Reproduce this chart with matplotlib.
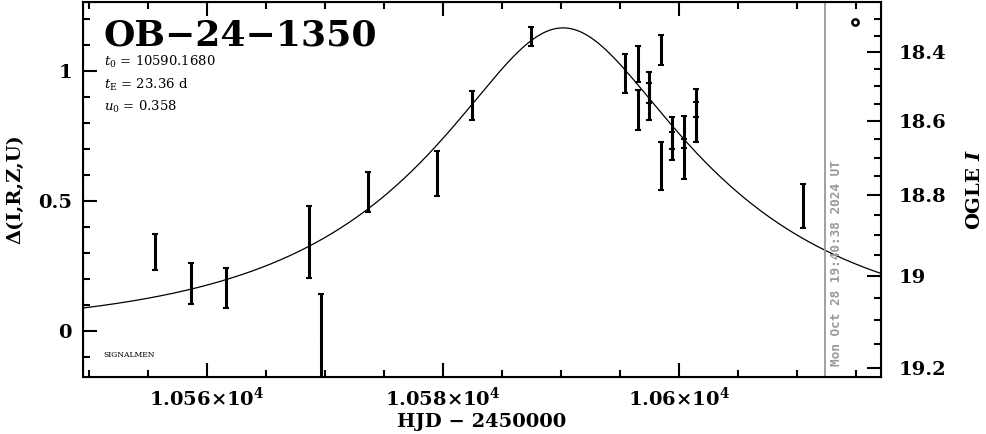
import numpy as np
import matplotlib
matplotlib.use("Agg")
import matplotlib.pyplot as plt
from matplotlib.ticker import MultipleLocator, FixedLocator, FuncFormatter

plt.rcParams['font.family'] = ['DejaVu Serif']
plt.rcParams['mathtext.fontset'] = 'dejavuserif'

# event parameters
event_name = 'OB\u221224\u22121350'
t0 = 10590.1680
tE = 23.36
u0 = 0.358

# photometry: HJD-2450000, delta mag, error
hjd = [10555.62, 10558.67, 10561.58, 10568.61, 10569.63, 10573.61, 10579.49,
       10582.48, 10587.46, 10595.45, 10596.49, 10596.49, 10597.46, 10597.46,
       10598.47, 10598.47, 10599.43, 10599.43, 10600.45, 10600.45, 10601.44,
       10601.44, 10610.47]
delta = [0.303, 0.182, 0.164, 0.341, -0.038, 0.534, 0.607,
         0.867, 1.133, 0.990, 1.026, 0.848, 0.936, 0.881,
         1.080, 0.634, 0.761, 0.711, 0.766, 0.661, 0.876,
         0.803, 0.480]
err = [0.069, 0.078, 0.077, 0.139, 0.179, 0.077, 0.087,
       0.056, 0.036, 0.074, 0.070, 0.077, 0.061, 0.071,
       0.058, 0.091, 0.060, 0.054, 0.061, 0.077, 0.053,
       0.076, 0.085]

# right axis (OGLE I) tick values and blend of flux
ogle_ticks = [18.4, 18.6, 18.8, 19.0, 19.2]
ogle_labels = ['18.4', '18.6', '18.8', '19', '19.2']
ogle_minor = [18.3, 18.35, 18.45, 18.5, 18.55, 18.65, 18.7, 18.75,
              18.85, 18.9, 18.95, 19.05, 19.1, 19.15]
blend_a, blend_b = 0.502, 0.391

now_hjd = 10612.32
stamp = 'Mon Oct 28 19:40:38 2024 UT'


def mag_to_delta(I):
    I = np.asarray(I)
    return 2.5 * np.log10((10 ** (-0.4 * (I - 19.0)) - blend_b) / blend_a)


fig = plt.figure(figsize=(9.86, 4.34), dpi=100)
ax = fig.add_axes([0.0842, 0.1313, 0.8093, 0.864])

tt = np.linspace(10549.5, 10617.1, 600)
u = np.sqrt(u0 ** 2 + ((tt - t0) / tE) ** 2)
A = (u ** 2 + 2) / (u * np.sqrt(u ** 2 + 4))
ax.plot(tt, 2.5 * np.log10(A), color='black', lw=0.9)

ax.errorbar(hjd, delta, yerr=err, fmt='.', color='black', ms=2.5,
            elinewidth=2.2, capsize=2, capthick=1.5)

ax.axvline(now_hjd, color='#999999', lw=1.3)
ax.text(now_hjd + 0.45, -0.135, stamp, rotation=90, color='#999999',
        fontsize=9.2, fontweight='bold', family='DejaVu Sans Mono',
        ha='left', va='bottom')

ax.set_xlim(10549.5, 10617.1)
ax.set_ylim(-0.177, 1.265)

ax.xaxis.set_major_locator(MultipleLocator(20))
ax.xaxis.set_minor_locator(MultipleLocator(5))
ax.xaxis.set_major_formatter(FuncFormatter(
    lambda v, p: r'$\mathbf{%s{\times}10^4}$' % ('%g' % (v / 1e4))))
ax.yaxis.set_major_locator(MultipleLocator(0.5))
ax.yaxis.set_minor_locator(MultipleLocator(0.1))
ax.yaxis.set_major_formatter(FuncFormatter(lambda v, p: '%g' % v))

ax.tick_params(which='both', direction='in', top=True, right=False,
               width=1.5, labelsize=14)
ax.tick_params(which='major', length=10)
ax.tick_params(which='minor', length=5)
ax.tick_params(axis='x', pad=7)
ax.tick_params(axis='y', pad=8)
for s in ax.spines.values():
    s.set_linewidth(1.5)

ax.set_xlabel('HJD \u2212 2450000', fontsize=14, fontweight='bold', labelpad=2)
ax.set_ylabel('\u0394(I,R,Z,U)', fontsize=14, fontweight='bold', labelpad=10)

ax2 = ax.twinx()
ax2.set_ylim(ax.get_ylim())
ax2.yaxis.set_major_locator(FixedLocator(mag_to_delta(ogle_ticks)))
ax2.yaxis.set_minor_locator(FixedLocator(mag_to_delta(ogle_minor)))
ax2.set_yticklabels(ogle_labels)
ax2.tick_params(which='both', direction='in', width=1.5, labelsize=14, pad=13)
ax2.tick_params(which='major', length=10)
ax2.tick_params(which='minor', length=5)
ax2.set_ylabel(r'OGLE $\boldsymbol{I}$', fontsize=14, fontweight='bold',
               labelpad=14)

for lab in ax.get_yticklabels() + ax2.get_yticklabels():
    lab.set_fontweight('bold')

ax.text(0.026, 0.955, event_name, transform=ax.transAxes, fontsize=26,
        fontweight='bold', ha='left', va='top')
ax.text(0.026, 0.84, r'$t_0$ = 10590.1680', transform=ax.transAxes,
        fontsize=9.5, ha='left', va='center')
ax.text(0.026, 0.779, r'$t_{\rm E}$ = 23.36 d', transform=ax.transAxes,
        fontsize=9.5, ha='left', va='center')
ax.text(0.026, 0.72, r'$u_0$ = 0.358', transform=ax.transAxes,
        fontsize=9.5, ha='left', va='center')
ax.text(0.026, 0.06, 'SIGNALMEN', transform=ax.transAxes, fontsize=5.5,
        ha='left', va='center')
ax.plot([0.968], [0.946], transform=ax.transAxes, marker='o', ms=4.5,
        mfc='white', mec='black', mew=1.8, clip_on=False)

fig.savefig('out.png', dpi=100)
